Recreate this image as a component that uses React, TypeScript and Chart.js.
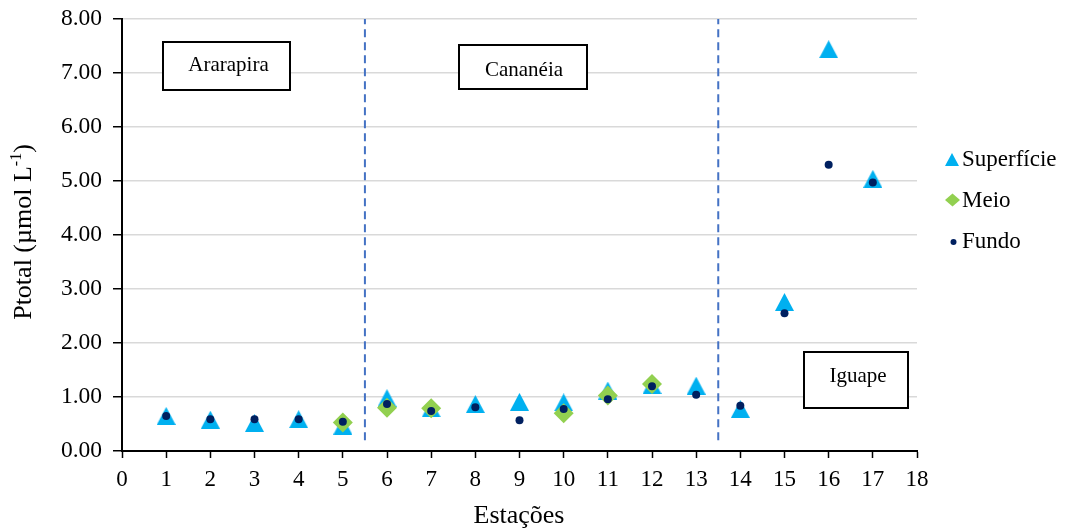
import { useEffect, useRef } from "react";
import { Chart, registerables } from "chart.js";

Chart.register(...registerables);

// ---- Data ----
const stations: number[] = [1, 2, 3, 4, 5, 6, 7, 8, 9, 10, 11, 12, 13, 14, 15, 16, 17];
const superficie: (number | null)[] = [0.65, 0.58, 0.52, 0.59, 0.47, 0.98, 0.79, 0.87, 0.91, 0.9, 1.12, 1.22, 1.21, 0.78, 2.76, 7.44, 5.04];
const meio: (number | null)[] = [null, null, null, null, 0.53, 0.8, 0.79, null, null, 0.7, 1.03, 1.24, null, null, null, null, null];
const fundo: (number | null)[] = [0.65, 0.59, 0.59, 0.59, 0.54, 0.87, 0.74, 0.81, 0.57, 0.78, 0.96, 1.2, 1.04, 0.84, 2.55, 5.3, 4.97];
const seriesNames: string[] = ["Superfície", "Meio", "Fundo"];
const regionNames: string[] = ["Ararapira", "Cananéia", "Iguape"];
const dividerStations: number[] = [5.5, 13.5];
const xMin = 0;
const xMax = 18;
const yMin = 0;
const yMax = 8;

const FONT = '"Liberation Serif", "Times New Roman", serif';
const C_SUP = "#00B0F0";
const C_MEIO = "#92D050";
const C_FUNDO = "#002060";
const C_DIV = "#4472C4";

function makeTriangle(w: number, h: number, color: string): HTMLCanvasElement {
  const c = document.createElement("canvas");
  c.width = w;
  c.height = h;
  const g = c.getContext("2d")!;
  g.fillStyle = color;
  g.beginPath();
  g.moveTo(w / 2, 0);
  g.lineTo(w, h);
  g.lineTo(0, h);
  g.closePath();
  g.fill();
  return c;
}

function toPoints(vals: (number | null)[]) {
  return stations
    .map((s, i) => ({ x: s, y: vals[i] }))
    .filter((p) => p.y !== null) as { x: number; y: number }[];
}

const overlayPlugin = {
  id: "overlay",
  afterDraw(chart: any) {
    const ctx: CanvasRenderingContext2D = chart.ctx;
    ctx.save();

    // Region boxes
    const boxes = [
      { t: regionNames[0], x: 163, y: 42, w: 127, h: 48, tx: 228.5, ty: 71 },
      { t: regionNames[1], x: 459, y: 45, w: 128, h: 44, tx: 524, ty: 76 },
      { t: regionNames[2], x: 804, y: 352, w: 104, h: 56, tx: 858, ty: 382 },
    ];
    boxes.forEach((b) => {
      ctx.fillStyle = "#ffffff";
      ctx.fillRect(b.x, b.y, b.w, b.h);
      ctx.lineWidth = 2;
      ctx.strokeStyle = "#000000";
      ctx.strokeRect(b.x, b.y, b.w, b.h);
      ctx.fillStyle = "#000000";
      ctx.font = `21px ${FONT}`;
      ctx.textAlign = "center";
      ctx.textBaseline = "alphabetic";
      ctx.fillText(b.t, b.tx, b.ty);
    });

    // X axis title
    ctx.fillStyle = "#000000";
    ctx.font = `26px ${FONT}`;
    ctx.textAlign = "center";
    ctx.textBaseline = "alphabetic";
    ctx.fillText("Estações", 519, 523);

    // Y axis title with superscript
    ctx.save();
    ctx.translate(31, 232);
    ctx.rotate(-Math.PI / 2);
    const main = "Ptotal (µmol L";
    const sup = "-1";
    const end = ")";
    ctx.font = `26px ${FONT}`;
    const wMain = ctx.measureText(main).width;
    const wEnd = ctx.measureText(end).width;
    ctx.font = `16px ${FONT}`;
    const wSup = ctx.measureText(sup).width;
    const total = wMain + wSup + wEnd;
    let x0 = -total / 2;
    ctx.textAlign = "left";
    ctx.font = `26px ${FONT}`;
    ctx.fillText(main, x0, 0);
    x0 += wMain;
    ctx.font = `16px ${FONT}`;
    ctx.fillText(sup, x0, -10);
    x0 += wSup;
    ctx.font = `26px ${FONT}`;
    ctx.fillText(end, x0, 0);
    ctx.restore();

    // Legend
    const lx = 952;
    const rows = [
      { y: 159.5, base: 166 },
      { y: 200, base: 207 },
      { y: 242, base: 248 },
    ];
    ctx.fillStyle = C_SUP;
    ctx.beginPath();
    ctx.moveTo(lx, rows[0].y - 6.5);
    ctx.lineTo(lx + 7, rows[0].y + 6.5);
    ctx.lineTo(lx - 7, rows[0].y + 6.5);
    ctx.closePath();
    ctx.fill();
    ctx.fillStyle = C_MEIO;
    ctx.beginPath();
    ctx.moveTo(lx + 0.5, rows[1].y - 6.5);
    ctx.lineTo(lx + 8, rows[1].y);
    ctx.lineTo(lx + 0.5, rows[1].y + 6.5);
    ctx.lineTo(lx - 7, rows[1].y);
    ctx.closePath();
    ctx.fill();
    ctx.fillStyle = C_FUNDO;
    ctx.beginPath();
    ctx.arc(lx + 1.5, rows[2].y, 3, 0, Math.PI * 2);
    ctx.fill();

    ctx.fillStyle = "#000000";
    ctx.font = `23px ${FONT}`;
    ctx.textAlign = "left";
    ctx.textBaseline = "alphabetic";
    seriesNames.forEach((n, i) => ctx.fillText(n, 962, rows[i].base));

    ctx.restore();
  },
};

export default function App() {
  const ref = useRef<HTMLCanvasElement | null>(null);

  useEffect(() => {
    if (!ref.current) return;
    const tri = makeTriangle(19, 18, C_SUP);

    const dividerSets = dividerStations.map((s) => ({
      type: "scatter" as const,
      label: "div" + s,
      data: [
        { x: s, y: 0.2 },
        { x: s, y: yMax },
      ],
      showLine: true,
      borderColor: C_DIV,
      borderWidth: 2,
      borderDash: [8, 5],
      pointRadius: 0,
      order: 4,
    }));

    const chart = new Chart(ref.current, {
      type: "scatter",
      data: {
        datasets: [
          ...dividerSets,
          {
            label: seriesNames[0],
            data: toPoints(superficie),
            pointStyle: tri as any,
            pointRadius: 10,
            backgroundColor: C_SUP,
            borderColor: C_SUP,
            order: 3,
          },
          {
            label: seriesNames[1],
            data: toPoints(meio),
            pointStyle: "rectRot",
            pointRadius: 10,
            backgroundColor: C_MEIO,
            borderColor: C_MEIO,
            borderWidth: 0,
            order: 2,
          },
          {
            label: seriesNames[2],
            data: toPoints(fundo),
            pointStyle: "circle",
            pointRadius: 4,
            backgroundColor: C_FUNDO,
            borderColor: C_FUNDO,
            borderWidth: 0,
            order: 1,
          },
        ],
      },
      options: {
        responsive: false,
        animation: false,
        devicePixelRatio: 1,
        layout: { padding: { top: 19, right: 149, left: 0, bottom: 0 } },
        plugins: {
          legend: { display: false },
          tooltip: { enabled: false },
        },
        scales: {
          x: {
            type: "linear",
            min: xMin,
            max: xMax,
            afterFit: (s: any) => {
              s.height = 79;
              s.paddingLeft = 0;
              s.paddingRight = 0;
            },
            border: { color: "#000000", width: 2 },
            grid: {
              drawOnChartArea: false,
              drawTicks: true,
              tickLength: 7,
              tickColor: "#000000",
              tickWidth: 1.5,
            },
            ticks: {
              stepSize: 1,
              padding: 8,
              color: "#000000",
              font: { family: FONT, size: 23 },
            },
          },
          y: {
            type: "linear",
            min: yMin,
            max: yMax,
            afterFit: (s: any) => {
              s.width = 122;
              s.paddingTop = 0;
              s.paddingBottom = 0;
            },
            border: { color: "#000000", width: 2 },
            grid: {
              color: "#d9d9d9",
              lineWidth: 1.5,
              drawTicks: true,
              tickLength: 9,
              tickColor: "#000000",
              tickWidth: 1.5,
            },
            ticks: {
              stepSize: 1,
              padding: 11,
              color: "#000000",
              font: { family: FONT, size: 23.5 },
              callback: (v: any) => Number(v).toFixed(2),
            },
          },
        },
      },
      plugins: [overlayPlugin],
    });

    return () => chart.destroy();
  }, []);

  return (
    <div style={{ position: "absolute", left: 0, top: 0, width: 1066, height: 530, background: "#fff" }}>
      <canvas ref={ref} width={1066} height={530} />
    </div>
  );
}
